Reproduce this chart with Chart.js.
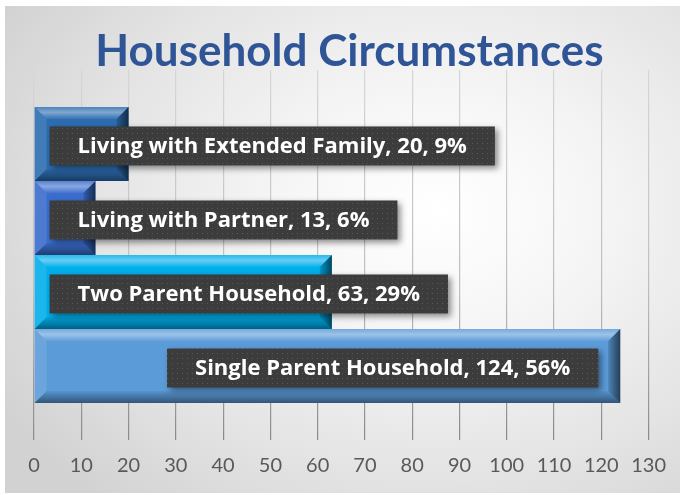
<!DOCTYPE html>
<html>
<head>
<meta charset="utf-8">
<script src="https://cdn.jsdelivr.net/npm/chart.js@4.4.1/dist/chart.umd.min.js"></script>
<style>
  html, body { margin: 0; padding: 0; background: #fff; overflow: hidden; }
  #card {
    position: absolute; left: 5px; top: 6px; width: 675px; height: 487px;
    background: radial-gradient(ellipse 75% 80% at 64% 42%, #ffffff 0%, #f6f6f6 30%, #e3e3e3 70%, #d2d2d2 100%);
  }
</style>
</head>
<body>
<div id="card"><canvas id="chart"></canvas></div>
<script>
// top to bottom, as shown
const categories = ['Living with Extended Family', 'Living with Partner', 'Two Parent Household', 'Single Parent Household'];
const counts = [20, 13, 63, 124];
const xTickValues = [0, 10, 20, 30, 40, 50, 60, 70, 80, 90, 100, 110, 120, 130];

const barColors = ['#2c6cb0', '#3a6dcc', '#00aeea', '#5b9bd8'];

function gridColor(c) {
    const area = c.chart.chartArea;
    if (!area) return '#c8c8c8';
    const g = c.chart.ctx.createLinearGradient(0, area.top, 0, area.bottom);
    g.addColorStop(0, '#d6d6d6');
    g.addColorStop(0.6, '#bdbdbd');
    g.addColorStop(1, '#8a8a8a');
    return g;
}

function dotPattern(ctx) {
    const c = document.createElement('canvas');
    c.width = 5; c.height = 5;
    const g = c.getContext('2d');
    g.fillStyle = '#3c3c3c';
    g.fillRect(0, 0, 5, 5);
    g.fillStyle = '#585858';
    g.fillRect(2, 2, 1, 1);
    return ctx.createPattern(c, 'repeat');
}

function poly(ctx, pts, fill) {
    ctx.beginPath();
    ctx.moveTo(pts[0][0], pts[0][1]);
    for (let k = 1; k < pts.length; k++) ctx.lineTo(pts[k][0], pts[k][1]);
    ctx.closePath();
    ctx.fillStyle = fill;
    ctx.fill();
}

function drawBevel(ctx, l, t, r, b, s) {
    // soft top highlight
    let g = ctx.createLinearGradient(0, t, 0, t + s);
    g.addColorStop(0, 'rgba(255,255,255,0.15)');
    g.addColorStop(0.45, 'rgba(255,255,255,0.40)');
    g.addColorStop(1, 'rgba(255,255,255,0.05)');
    poly(ctx, [[l, t], [r, t], [r - s, t + s], [l + s, t + s]], g);
    poly(ctx, [[l, t], [l + s, t + s], [l + s, b - s], [l, b]], 'rgba(255,255,255,0.10)');
    g = ctx.createLinearGradient(0, b - s, 0, b);
    g.addColorStop(0, 'rgba(0,0,0,0.05)');
    g.addColorStop(1, 'rgba(0,0,0,0.45)');
    poly(ctx, [[l, b], [l + s, b - s], [r - s, b - s], [r, b]], g);
    g = ctx.createLinearGradient(r - s, 0, r, 0);
    g.addColorStop(0, 'rgba(0,0,0,0.15)');
    g.addColorStop(1, 'rgba(0,0,0,0.6)');
    poly(ctx, [[r, t], [r, b], [r - s, b - s], [r - s, t + s]], g);
}

const barDecor = {
    id: 'barDecor',
    afterDatasetsDraw(chart) {
        const ctx = chart.ctx;
        const total = counts.reduce((a, b) => a + b, 0);
        const bars = chart.data.datasets.map((ds, i) =>
            chart.getDatasetMeta(i).data[0].getProps(['x', 'y', 'base', 'height'], true));

        ctx.save();
        bars.forEach(p => {
            const l = Math.min(p.x, p.base), r = Math.max(p.x, p.base);
            drawBevel(ctx, l, p.y - p.height / 2, r, p.y + p.height / 2, 12);
        });

        // data labels: name, value, percent
        const pattern = dotPattern(ctx);
        ctx.font = 'bold 22px "Open Sans"';
        ctx.textAlign = 'center';
        ctx.textBaseline = 'middle';
        bars.forEach((p, i) => {
            const text = `${categories[i]}, ${counts[i]}, ${Math.round(counts[i] / total * 100)}%`;
            const w = ctx.measureText(text).width + 56;
            const h = 39;
            const l = Math.min(p.x, p.base), r = Math.max(p.x, p.base);
            let bx = (r - l > w + 40) ? r - 22 - w : l + 15;
            const by = p.y + 2 - h / 2;
            ctx.save();
            ctx.shadowColor = 'rgba(0,0,0,0.45)';
            ctx.shadowBlur = 6;
            ctx.shadowOffsetX = 3;
            ctx.shadowOffsetY = 3;
            ctx.fillStyle = pattern;
            ctx.fillRect(bx, by, w, h);
            ctx.restore();
            ctx.fillStyle = '#ffffff';
            ctx.fillText(text, bx + w / 2, p.y + 3);
        });
        ctx.restore();
    }
};

const ctx = document.getElementById('chart').getContext('2d');
const householdChart = new Chart(ctx, {
    type: 'bar',
    data: {
        labels: [''],
        datasets: categories.map((name, i) => ({
            label: name,
            data: [counts[i]],
            backgroundColor: barColors[i],
            borderWidth: 0
        }))
    },
    options: {
        indexAxis: 'y',
        responsive: true,
        maintainAspectRatio: false,
        animation: false,
        layout: {
            padding: { left: 29, right: 15, top: 0, bottom: 1 }
        },
        datasets: {
            bar: { categoryPercentage: 0.8, barPercentage: 1 }
        },
        plugins: {
            legend: { display: false },
            tooltip: { enabled: false },
            title: {
                display: true,
                text: 'Household Circumstances',
                color: '#2f5597',
                font: { family: 'Lato', weight: 'bold', size: 44, lineHeight: 0.84 },
                padding: { top: 27, bottom: 0 }
            }
        },
        scales: {
            x: {
                min: xTickValues[0],
                max: xTickValues[xTickValues.length - 1],
                afterBuildTicks: s => { s.ticks = xTickValues.map(v => ({ value: v })); },
                grid: { color: gridColor, lineWidth: 1.2, drawTicks: false },
                border: { display: false },
                ticks: {
                    color: '#595959',
                    font: { family: 'Lato', size: 20 },
                    padding: 14,
                    maxRotation: 0,
                    autoSkip: false
                }
            },
            y: {
                // empty right-hand axis, only to balance the title over the plot
                position: 'right',
                grid: { display: false },
                border: { display: false },
                ticks: { display: false },
                afterFit: s => { s.width = 6; }
            }
        }
    },
    plugins: [barDecor]
});
</script>
</body>
</html>
